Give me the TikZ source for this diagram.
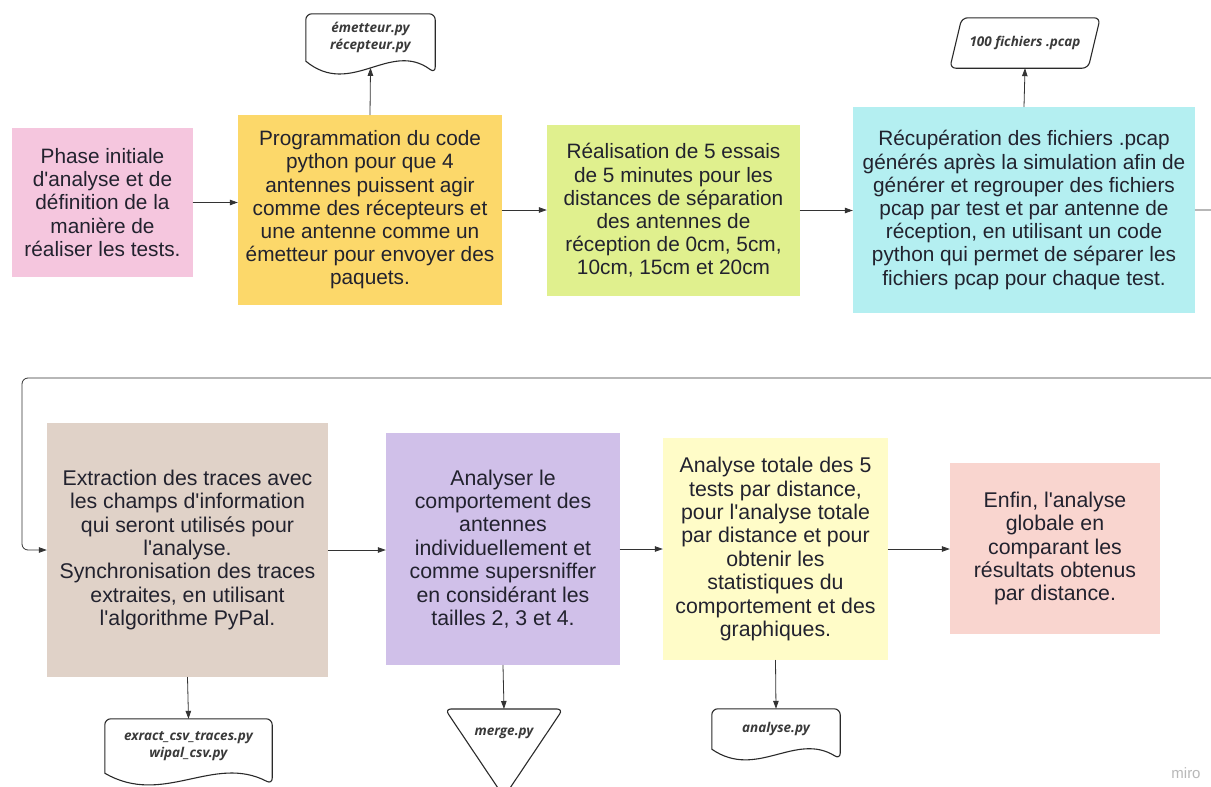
\documentclass[tikz,border=0pt]{standalone}
\usepackage{fontspec}
\setmainfont{Liberation Sans}[Ligatures=TeXOff]
\newfontfamily\filefont{Open Sans}
\usetikzlibrary{arrows.meta,calc}
\definecolor{ink}{HTML}{22222E}
\definecolor{wire}{HTML}{333333}
\definecolor{docline}{HTML}{2A2A2A}
\definecolor{docink}{HTML}{3A3A3A}
\definecolor{pinkbox}{HTML}{F5C6DE}
\definecolor{goldbox}{HTML}{FCD86A}
\definecolor{limebox}{HTML}{E0F08E}
\definecolor{cyanbox}{HTML}{B4EFF1}
\definecolor{sandbox}{HTML}{E0D2C8}
\definecolor{lilacbox}{HTML}{D0C0E9}
\definecolor{creambox}{HTML}{FFFCC8}
\definecolor{salmonbox}{HTML}{F9D5CF}

% document shape drawn round a node: #1 node name, #2 depth of the wave
\newcommand\docpath[2]{%
  \draw[docline,line width=1.1pt] (#1.south west) [rounded corners=6pt] -- (#1.north west) -- (#1.north east) -- ($(#1.south east)+(0,#2)$) [sharp corners] .. controls ($(#1.south west)!0.65!(#1.south east)+(0,-1.8*#2)$) and ($(#1.south west)!0.35!(#1.south east)+(0,3.1*#2)$) .. (#1.south west) -- cycle;
  \coordinate (#1in) at ($(#1.south)+(0,0.55*#2)$);}

\begin{document}
\begin{tikzpicture}[x=1pt,y=-1pt,line cap=round,line join=round,
  box/.style={rectangle,inner sep=0pt,align=center,text=ink},
  rowa/.style={font=\fontsize{20.8}{23.2}\selectfont},
  rowb/.style={font=\fontsize{21.3}{23.4}\selectfont},
  arr/.style={-{Triangle[length=8pt,width=5.5pt]},line width=0.8pt,wire},
  fname/.style={font=\filefont\bfseries\itshape\fontsize{13.5}{17}\selectfont,text=docink,align=center,inner sep=0pt}]
  \useasboundingbox (0,0) rectangle (1211,787);
  \fill[white] (0,0) rectangle (1211,787);

  % ---- first row ----
  \node[box,rowa,fill=pinkbox,minimum width=181pt,minimum height=149pt] (b1) at (102.5,202.5)
    {Phase initiale\\d'analyse et de\\définition de la\\manière de\\réaliser les tests.};
  \node[box,rowa,fill=goldbox,minimum width=264pt,minimum height=190pt] (b2) at (370,210)
    {Programmation du code\\python pour que 4\\antennes puissent agir\\comme des récepteurs et\\une antenne comme un\\émetteur pour envoyer des\\paquets.};
  \node[box,rowa,fill=limebox,minimum width=253pt,minimum height=171pt] (b3) at (673.5,210.5)
    {Réalisation de 5 essais\\de 5 minutes pour les\\distances de séparation\\des antennes de\\réception de 0cm, 5cm,\\10cm, 15cm et 20cm};
  \node[box,rowa,fill=cyanbox,minimum width=342pt,minimum height=206pt] (b4) at (1024,210)
    {Récupération des fichiers .pcap\\générés après la simulation afin de\\générer et regrouper des fichiers\\pcap par test et par antenne de\\réception, en utilisant un code\\python qui permet de séparer les\\fichiers pcap pour chaque test.};

  % ---- second row ----
  \node[box,rowb,fill=sandbox,minimum width=281pt,minimum height=254pt] (b5) at (187.5,550)
    {Extraction des traces avec\\les champs d'information\\qui seront utilisés pour\\l'analyse.\\Synchronisation des traces\\extraites, en utilisant\\l'algorithme PyPal.};
  \node[box,rowb,fill=lilacbox,minimum width=234pt,minimum height=232pt] (b6) at (503,549)
    {Analyser le\\comportement des\\antennes\\individuellement et\\comme supersniffer\\en considérant les\\tailles 2, 3 et 4.};
  \node[box,rowb,fill=creambox,minimum width=225pt,minimum height=222pt] (b7) at (775.5,549)
    {Analyse totale des 5\\tests par distance,\\pour l'analyse totale\\par distance et pour\\obtenir les\\statistiques du\\comportement et des\\graphiques.};
  \node[box,rowb,fill=salmonbox,minimum width=210pt,minimum height=171pt] (b8) at (1055,548.5)
    {Enfin, l'analyse\\globale en\\comparant les\\résultats obtenus\\par distance.};

  % ---- files ----
  \node[fname,minimum width=129pt,minimum height=47pt] (emit) at (370.5,37.5) {émetteur.py\\récepteur.py};
  \docpath{emit}{12}
  \node[fname,minimum width=138pt,minimum height=50pt] (pcap) at (1025,43) {100 fichiers .pcap};
  \draw[docline,line width=1.1pt,rounded corners=6pt] ($(pcap.north west)+(6,0)$) -- ($(pcap.north east)+(6,0)$)
    -- ($(pcap.south east)+(-6,0)$) -- ($(pcap.south west)+(-6,0)$) -- cycle;
  \node[fname,minimum width=167pt,minimum height=54pt] (traces) at (188.5,746) {exract\_csv\_traces.py\\wipal\_csv.py};
  \docpath{traces}{11}
  \draw[docline,line width=1.1pt,rounded corners=6pt] (445,709) -- (563,709) -- (504,797) -- cycle;
  \node[fname] (merge) at (504,733) {merge.py};
  \coordinate (mergetop) at (504,709);
  \node[fname,minimum width=128pt,minimum height=40pt] (anal) at (776,729) {analyse.py};
  \docpath{anal}{10}

  % ---- connectors ----
  \draw[arr] (b1.east) -- (b1.east -| b2.west);
  \draw[arr] (b2.east) -- (b2.east -| b3.west);
  \draw[arr] (b3.east) -- (b3.east -| b4.west);
  \draw[arr] (b2.north) -- (emitin);
  \draw[arr] (b4.north) -- (pcap.south);
  \coordinate (wrapR) at (1240,378);
  \coordinate (wrapL) at (22,378);
  \draw[arr,rounded corners=6pt] (b4.east) -| (wrapR) -- (wrapL) |- (b5.west);
  \draw[arr] (b5.east) -- (b5.east -| b6.west);
  \draw[arr] (b6.east) -- (b6.east -| b7.west);
  \draw[arr] (b7.east) -- (b7.east -| b8.west);
  \draw[arr] (b5.south) -- (traces.north);
  \draw[arr] (b6.south) -- (mergetop);
  \draw[arr] (b7.south) -- (anal.north);

  \node[text=black!28,font=\fontsize{15}{15}\selectfont,inner sep=0pt] (miro) at (1186,773) {miro};
\end{tikzpicture}
\end{document}
